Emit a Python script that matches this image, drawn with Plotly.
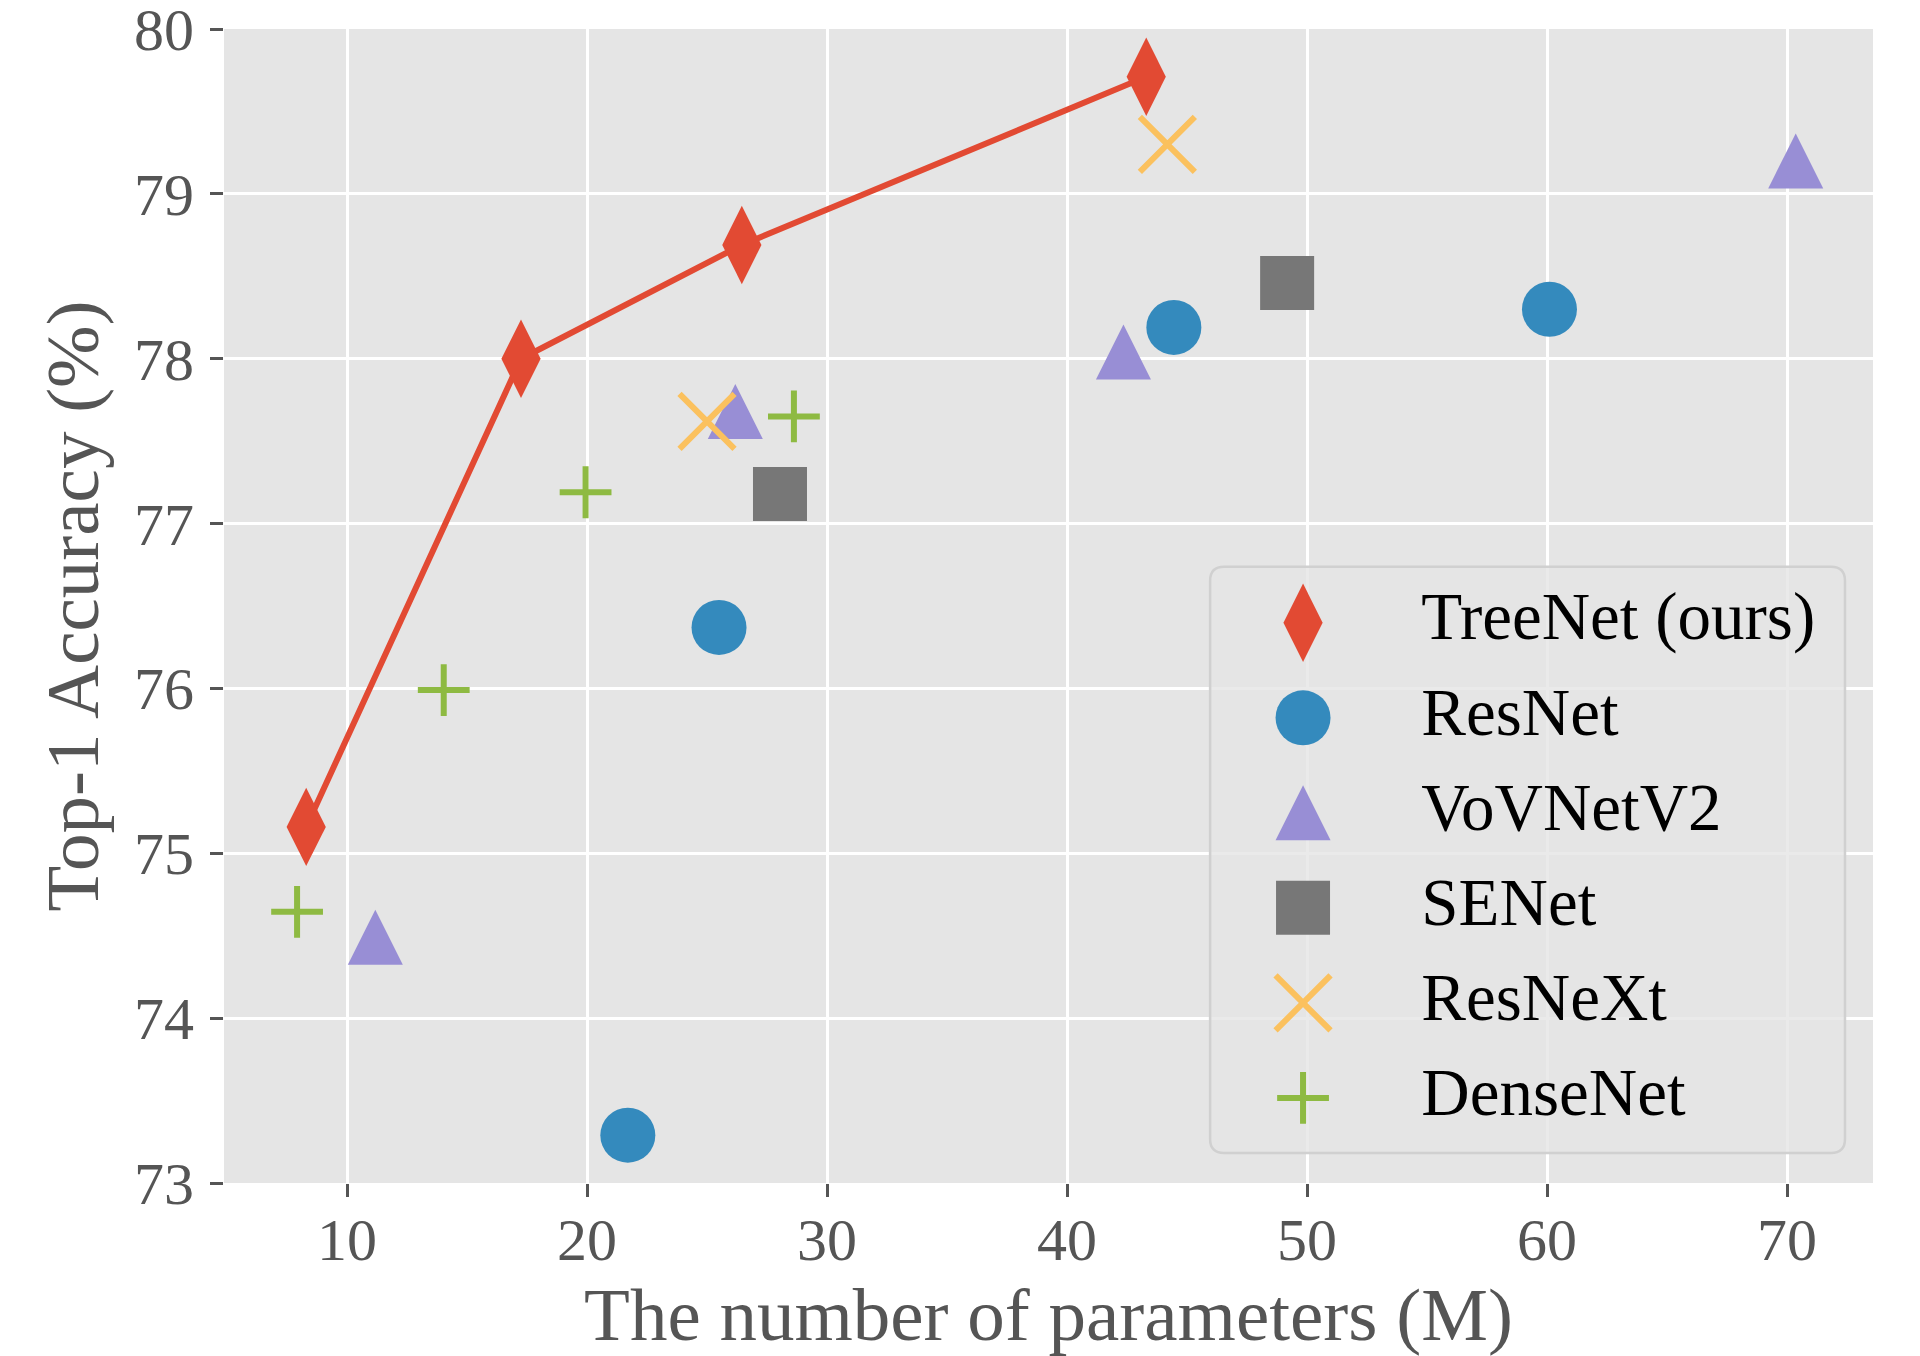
import plotly.graph_objects as go

# ---------------- data ----------------
treenet_x = [8.3, 17.25, 26.45, 43.3]
treenet_y = [75.16, 78.0, 78.69, 79.71]

resnet_x = [21.7, 25.5, 44.45, 60.1]
resnet_y = [73.29, 76.37, 78.19, 78.30]

vovnet_x = [11.18, 26.18, 42.35, 70.36]
vovnet_y = [74.49, 77.68, 78.04, 79.2]

senet_x = [28.04, 49.17]
senet_y = [77.18, 78.46]

resnext_x = [25.0, 44.18]
resnext_y = [77.62, 79.30]

densenet_x = [7.92, 14.03, 19.94, 28.62]
densenet_y = [74.645, 75.99, 77.19, 77.65]

series_names = ["TreeNet (ours)", "ResNet", "VoVNetV2", "SENet", "ResNeXt", "DenseNet"]
x_ticks = [10, 20, 30, 40, 50, 60, 70]
y_ticks = [73, 74, 75, 76, 77, 78, 79, 80]

# ---------------- style ----------------
RED, BLUE, PURPLE, GRAY, YELLOW, GREEN = "#E24A33", "#348ABD", "#988ED5", "#777777", "#FBC15E", "#8EBA42"
FONT = "Liberation Serif"
TRI = 55

marker_styles = {
    "TreeNet (ours)": dict(symbol="diamond-tall", size=56, color=RED, line=dict(width=0)),
    "ResNet": dict(symbol="circle", size=55, color=BLUE, line=dict(width=0)),
    "VoVNetV2": dict(symbol="arrow-down", size=TRI, angle=180, standoff=TRI / 2,
                     color=PURPLE, line=dict(width=0)),
    "SENet": dict(symbol="square", size=54, color=GRAY, line=dict(width=0)),
    "ResNeXt": dict(symbol="x-thin", size=55, color=YELLOW, line=dict(width=6, color=YELLOW)),
    "DenseNet": dict(symbol="cross-thin", size=37, color=GREEN, line=dict(width=6, color=GREEN)),
}

data = {
    "TreeNet (ours)": (treenet_x, treenet_y),
    "ResNet": (resnet_x, resnet_y),
    "VoVNetV2": (vovnet_x, vovnet_y),
    "SENet": (senet_x, senet_y),
    "ResNeXt": (resnext_x, resnext_y),
    "DenseNet": (densenet_x, densenet_y),
}

fig = go.Figure()
for name in series_names:
    xs, ys = data[name]
    mode = "lines+markers" if name == "TreeNet (ours)" else "markers"
    fig.add_trace(go.Scatter(
        x=xs, y=ys, mode=mode, name=name, showlegend=False,
        line=dict(color=RED, width=6),
        marker=marker_styles[name],
        xaxis="x", yaxis="y",
    ))

# ---------------- manual legend (large symbols) ----------------
leg_x0, leg_x1 = 0.598, 0.983
leg_y0, leg_y1 = 0.026, 0.534
leg_xrange = [-0.762, 4.443]
leg_yrange = [5.579, -0.589]
for name in series_names:
    fig.add_trace(go.Scatter(
        x=[0], y=[name], mode="markers", marker=marker_styles[name],
        showlegend=False, hoverinfo="skip", xaxis="x2", yaxis="y2",
    ))
fig.add_trace(go.Scatter(
    x=[0.97] * len(series_names), y=series_names, mode="text", text=series_names,
    textposition="middle right", textfont=dict(family=FONT, size=67, color="black"),
    showlegend=False, hoverinfo="skip", xaxis="x2", yaxis="y2",
))

# plot background (below grid)
fig.add_shape(type="rect", xref="paper", yref="paper", x0=0, x1=1, y0=0, y1=1,
              fillcolor="#E5E5E5", line=dict(width=0), layer="below")
# legend fill (above main grid, below legend symbols)
fig.add_shape(type="rect", xref="x2", yref="y2",
              x0=leg_xrange[0], x1=leg_xrange[1], y0=leg_yrange[0], y1=leg_yrange[1],
              fillcolor="rgba(229,229,229,0.8)", line=dict(width=0), layer="below")
# legend rounded frame
PW, PH = 1649.0, 1154.0
rx, ry = 14 / PW, 14 / PH
a, b, c, d = leg_x0, leg_x1, leg_y0, leg_y1
path = (f"M{a+rx},{d} L{b-rx},{d} Q{b},{d} {b},{d-ry} L{b},{c+ry} Q{b},{c} {b-rx},{c} "
        f"L{a+rx},{c} Q{a},{c} {a},{c+ry} L{a},{d-ry} Q{a},{d} {a+rx},{d} Z")
fig.add_shape(type="path", xref="paper", yref="paper", path=path,
              line=dict(color="#D0D0D0", width=2.5), fillcolor="rgba(0,0,0,0)", layer="above")

axis_common = dict(
    showgrid=True, gridcolor="white", gridwidth=3, zeroline=False,
    ticks="outside", ticklen=13, tickwidth=3, tickcolor="#555555",
    tickfont=dict(family=FONT, size=60, color="#555555"),
    showline=False, automargin=False, ticklabeloverflow="allow",
)

fig.update_layout(
    width=1912, height=1348,
    margin=dict(l=216, r=47, t=21, b=173),
    paper_bgcolor="white", plot_bgcolor="rgba(0,0,0,0)",
    font=dict(family=FONT, color="#555555"),
    showlegend=False,
    xaxis=dict(range=[4.875, 73.58], tickvals=x_ticks, ticklabelstandoff=-9, **axis_common,
               title=dict(text="The number of parameters (M)",
                          font=dict(family=FONT, size=75, color="#555555"), standoff=20)),
    yaxis=dict(range=[73, 80], tickvals=y_ticks, ticklabelstandoff=4, **axis_common,
               title=dict(text="Top-1 Accuracy (%)",
                          font=dict(family=FONT, size=75, color="#555555"), standoff=10)),
    xaxis2=dict(domain=[leg_x0, leg_x1], anchor="y2", range=leg_xrange,
                visible=False, fixedrange=True, automargin=False),
    yaxis2=dict(domain=[leg_y0, leg_y1], anchor="x2", type="category",
                categoryorder="array", categoryarray=series_names,
                range=leg_yrange, visible=False, fixedrange=True, automargin=False),
)

fig.write_html("out.html")
